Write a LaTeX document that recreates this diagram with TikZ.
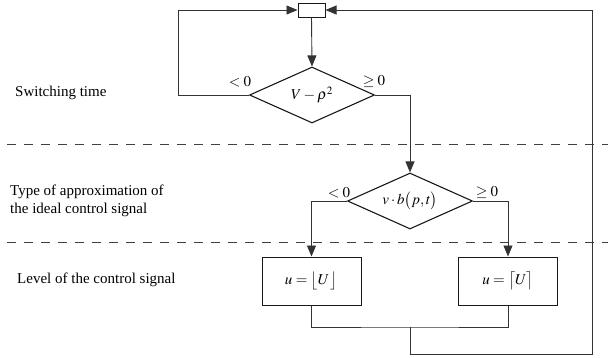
\documentclass[tikz,border=0pt]{standalone}
\usepackage{mathptmx}
\usepackage{fontspec}
\setmainfont{Liberation Serif}
\usetikzlibrary{shapes.geometric,arrows.meta}
\tikzset{
  ln/.style={draw=black!80, line width=0.9pt},
  arr/.style={ln, -{Triangle[length=11pt,width=9pt]}},
  dec/.style={diamond, draw=black!90, line width=1.1pt, inner sep=0pt, aspect=2.25, minimum width=125pt, minimum height=56pt},
  boxn/.style={rectangle, draw=black!90, line width=1pt, inner sep=0pt, minimum width=99pt, minimum height=48pt},
  lab/.style={font=\fontsize{15}{17}\selectfont, inner sep=0pt},
  side/.style={font=\fontsize{15}{17.5}\selectfont, inner sep=0pt, anchor=west, align=left},
  sep/.style={draw=black!75, line width=0.9pt, dash pattern=on 9pt off 8pt}
}
\begin{document}
\begin{tikzpicture}[x=1pt,y=-1pt]
\useasboundingbox (0,0) rectangle (608,357);
% separators
\draw[sep] (7,144) -- (608,144);
\draw[sep] (7,242) -- (608,242);
% side texts
\node[side] (t1) at (15,93) {Switching time};
\node[side] (t2) at (10,201) {Type of approximation of\\the ideal control signal};
\node[side] (t3) at (17,280) {Level of the control signal};
% nodes
\node[rectangle, draw=black!90, line width=1pt, minimum width=27pt, minimum height=14pt, inner sep=0pt] (top) at (311.5,10) {};
\node[dec] (d1) at (312,95) {\fontsize{15}{17}\selectfont $V-\rho^{2}$};
\node[dec] (d2) at (410,201) {\fontsize{15}{17}\selectfont $v\cdot b\bigl(p,t\bigr)$};
\node[boxn] (b1) at (311.5,281) {\fontsize{15}{17}\selectfont $u=\bigl\lfloor U\,\bigr\rfloor$};
\node[boxn] (b2) at (508,281) {\fontsize{15}{17}\selectfont $u=\bigl\lceil U\bigr\rceil$};
% labels
\node[lab] (l1) at (240,82) {$<0$};
\node[lab] (g1) at (374,81) {$\geq0$};
\node[lab] (l2) at (339,193) {$<0$};
\node[lab] (g2) at (487,192) {$\geq0$};
% coordinates
\coordinate (lc) at (178,10);
\coordinate (m) at (410,327);
\coordinate (bl) at (410,354);
\coordinate (rc) at (592,10);
% connectors
\draw[arr] (top.south) -- (d1.north);
\draw[arr] (d1.west) -| (lc) -- (top.west);
\draw[arr] (d1.east) -| (d2.north);
\draw[arr] (d2.west) -| (b1.north);
\draw[arr] (d2.east) -| (b2.north);
\draw[ln] (b1.south) |- (m) -| (b2.south);
\draw[arr] (m) -- (bl) -| (rc) -- (top.east);
\end{tikzpicture}
\end{document}
